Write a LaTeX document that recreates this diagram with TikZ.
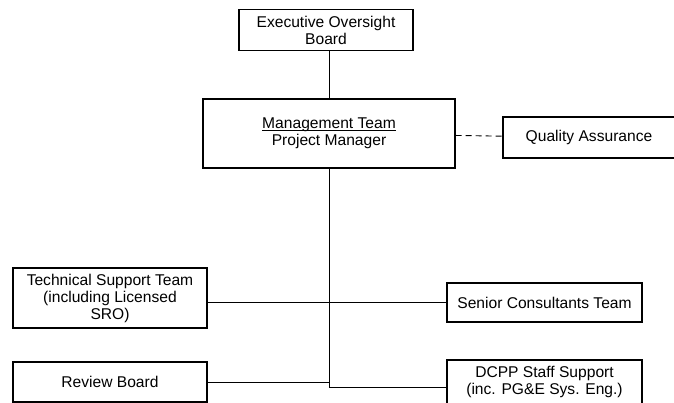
\documentclass[tikz,border=0pt]{standalone}
\usepackage{fontspec}
\setmainfont{Liberation Sans}
\newcommand{\undertext}[1]{\leavevmode\setbox0=\hbox{#1}\rlap{\vrule height -1.6pt depth 2.5pt width \wd0}\box0}
\begin{document}
\begin{tikzpicture}[x=1pt,y=-1pt,
  box/.style={draw, line width=1.2pt, inner sep=0pt, align=center, font=\fontsize{15.6}{17}\selectfont},
  link/.style={line width=0.9pt}]
\useasboundingbox (0,0) rectangle (674,403);
\node[box, minimum width=174, minimum height=41] (eob) at (326,30){Executive Oversight\\Board};
\node[box, minimum width=252, minimum height=69] (mgmt) at (329,133.5){\undertext{Management Team}\\Project Manager};
\node[box, minimum width=172, minimum height=41] (qa) at (589,137.5){Quality Assurance};
\node[box, minimum width=194, minimum height=60] (tech) at (110,298){Technical Support Team\\(including Licensed\\SRO)};
\node[box, minimum width=195, minimum height=39] (senior) at (544.5,302.5){Senior Consultants Team};
\node[box, minimum width=194, minimum height=40] (review) at (110,382){Review Board};
\node[box, minimum width=195, minimum height=58] (dcpp) at (544.5,389){DCPP Staff Support\\(inc. PG\&E Sys. Eng.)\\\mbox{}};
\coordinate (spine) at (mgmt.south |- 0,387);
\draw[link](eob.south -| mgmt.north) -- (mgmt.north);
\draw[link, dash pattern=on 6pt off 4pt](mgmt) -- (qa);
\draw[link](mgmt.south) -- (spine);
\draw[link](tech.east |- senior.west) -- (senior.west);
\draw[link](review.east) -- (review.east -| spine);
\draw[link](spine) -- (spine -| dcpp.west);

\end{tikzpicture}
\end{document}
